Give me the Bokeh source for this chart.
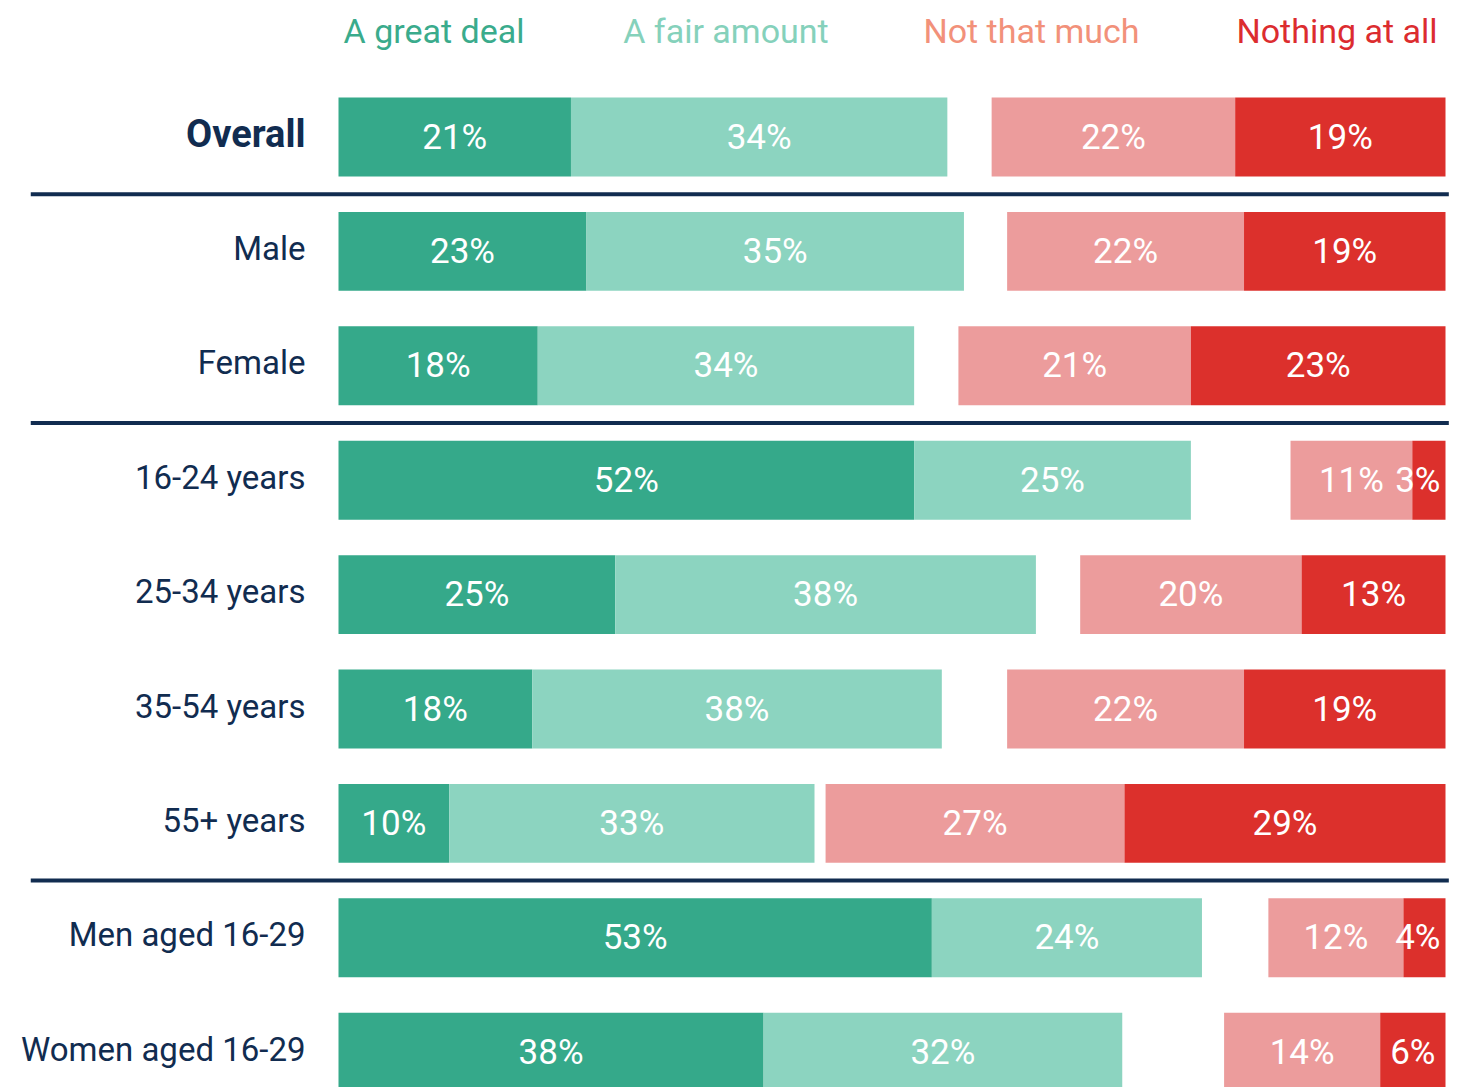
import numpy as np
from bokeh.plotting import figure
from bokeh.models import Range1d
from bokeh.core.properties import value
from bokeh.embed import file_html
from bokeh.resources import INLINE

# ---------------- data ----------------
categories = ["Overall", "Male", "Female", "16-24 years", "25-34 years",
              "35-54 years", "55+ years", "Men aged 16-29", "Women aged 16-29"]
# bar lengths
great_deal = [21.0, 22.4, 18.0, 52.0, 25.0, 17.5, 10.0, 53.6, 38.4]
fair_amount = [34.0, 34.1, 34.0, 25.0, 38.0, 37.0, 33.0, 24.4, 32.4]
not_much = [22.0, 21.4, 21.0, 11.0, 20.0, 21.4, 27.0, 12.2, 14.1]
nothing = [19.0, 18.2, 23.0, 3.0, 13.0, 18.2, 29.0, 3.8, 5.9]
# printed labels
great_deal_lbl = [21, 23, 18, 52, 25, 18, 10, 53, 38]
fair_amount_lbl = [34, 35, 34, 25, 38, 38, 33, 24, 32]
not_much_lbl = [22, 22, 21, 11, 20, 22, 27, 12, 14]
nothing_lbl = [19, 19, 23, 3, 13, 19, 29, 4, 6]
legend_labels = ["A great deal", "A fair amount", "Not that much", "Nothing at all"]
separator_after_rows = [0, 2, 6]

# ---------------- styling / layout ----------------
FONT = "Roboto"
C_DARK = "#35a98a"
C_LIGHT = "#8cd4c0"
C_PINK = "#ec9c9c"
C_RED = "#dc302c"
C_NAVY = "#112c50"
LEGEND_COLORS = ["#3aab8c", "#85d1bb", "#f2917a", "#dc2c2f"]
LEGEND_X = [8.63, 35.0, 62.6, 90.2]
LABEL_MAX_X = 97.5
SEP_X0, SEP_X1 = -27.8, 100.3
W, H = 1463, 1087
PX_X = 11.07      # pixels per percentage point
PX_Y = 114.4      # pixels per row
ROW0_Y = 136.5    # pixel position of first row centre
LEFT0 = 338       # pixel position of 0%
BAR_H = 0.69

n = len(categories)
y = -np.arange(n, dtype=float)
gd = np.array(great_deal)
fa = np.array(fair_amount)
nm = np.array(not_much)
nt = np.array(nothing)

p = figure(width=W, height=H,
           x_range=Range1d(-LEFT0 / PX_X, (W - LEFT0) / PX_X),
           y_range=Range1d(-(H - ROW0_Y) / PX_Y, ROW0_Y / PX_Y),
           output_backend="svg", toolbar_location=None, min_border=0,
           x_axis_location=None, y_axis_location=None)
p.grid.visible = False
p.outline_line_color = None
p.background_fill_color = "white"
p.border_fill_color = "white"

p.hbar(y=y, left=0, right=gd, height=BAR_H, fill_color=C_DARK, line_color=None)
p.hbar(y=y, left=gd, right=gd + fa, height=BAR_H, fill_color=C_LIGHT, line_color=None)
p.hbar(y=y, left=100 - nt - nm, right=100 - nt, height=BAR_H, fill_color=C_PINK, line_color=None)
p.hbar(y=y, left=100 - nt, right=100, height=BAR_H, fill_color=C_RED, line_color=None)

common = dict(text_align="center", text_baseline="middle", text_color="white",
              text_font=value(FONT), text_font_size="35px")
p.text(x=gd / 2, y=y, text=[f"{v}%" for v in great_deal_lbl], **common)
p.text(x=gd + fa / 2, y=y, text=[f"{v}%" for v in fair_amount_lbl], **common)
p.text(x=100 - nt - nm / 2, y=y, text=[f"{v}%" for v in not_much_lbl], **common)
p.text(x=np.minimum(100 - nt / 2, LABEL_MAX_X), y=y, text=[f"{v}%" for v in nothing_lbl], **common)

# category labels
p.text(x=[0], y=y[:1], text=categories[:1], x_offset=-33, y_offset=-3,
       text_align="right", text_baseline="middle", text_color=C_NAVY,
       text_font=value(FONT), text_font_size="38px", text_font_style="bold")
p.text(x=[0] * (n - 1), y=y[1:], text=categories[1:], x_offset=-33, y_offset=-3,
       text_align="right", text_baseline="middle", text_color=C_NAVY,
       text_font=value(FONT), text_font_size="33px")

# legend header
p.text(x=LEGEND_X, y=[0] * 4, y_offset=-106.5, text=legend_labels,
       text_color=LEGEND_COLORS, text_align="center", text_baseline="middle",
       text_font=value(FONT), text_font_size="34px")

# separators
sy = [-(r + 0.5) for r in separator_after_rows]
p.segment(x0=[SEP_X0] * len(sy), x1=[SEP_X1] * len(sy), y0=sy, y1=sy,
          line_color=C_NAVY, line_width=4, line_cap="butt")

open("out.html", "w").write(file_html(p, INLINE))
